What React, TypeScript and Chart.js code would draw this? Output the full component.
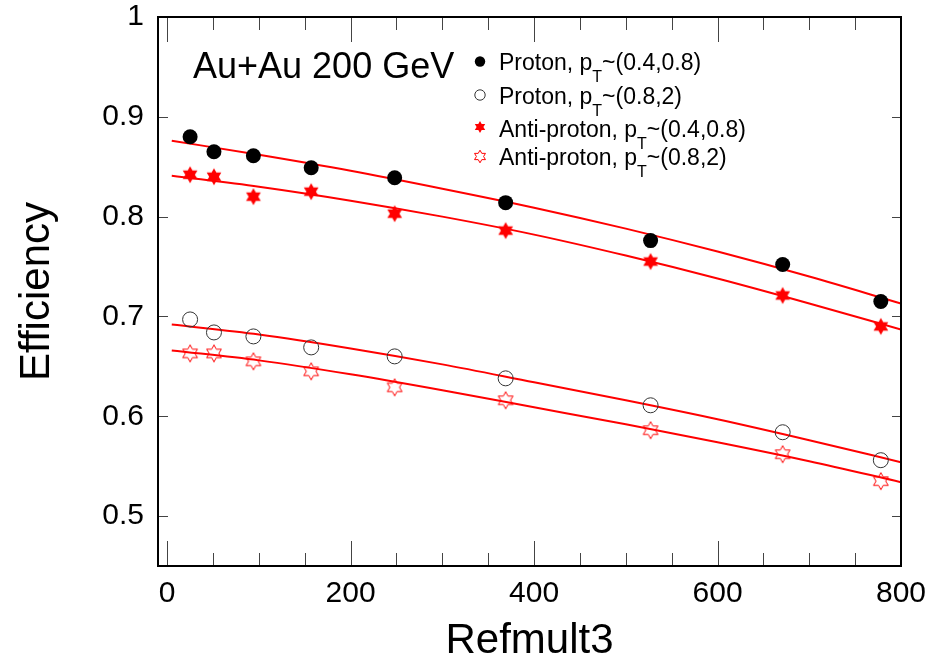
import React, { useEffect, useRef } from 'react';
import { Chart, registerables } from 'chart.js';

Chart.register(...registerables);

// ---- data ----
const refmult = [25, 51, 94, 157, 248, 369, 527, 671, 778];
const protonLow = [0.880, 0.865, 0.861, 0.849, 0.839, 0.814, 0.776, 0.752, 0.715];
const protonHigh = [0.697, 0.684, 0.680, 0.669, 0.660, 0.638, 0.611, 0.584, 0.556];
const antiLow = [0.842, 0.840, 0.820, 0.825, 0.803, 0.786, 0.755, 0.721, 0.690];
const antiHigh = [0.663, 0.663, 0.655, 0.645, 0.629, 0.616, 0.586, 0.562, 0.535];

const fitX = [5, 100, 200, 300, 400, 500, 600, 700, 800];
const protonLowFit = [0.876, 0.862, 0.846, 0.828, 0.809, 0.788, 0.765, 0.740, 0.713];
const antiLowFit = [0.841, 0.830, 0.816, 0.800, 0.782, 0.761, 0.738, 0.713, 0.687];
const protonHighFit = [0.692, 0.682, 0.668, 0.652, 0.634, 0.616, 0.597, 0.576, 0.554];
const antiHighFit = [0.666, 0.656, 0.642, 0.626, 0.609, 0.592, 0.574, 0.555, 0.534];

const xTicks = [0, 200, 400, 600, 800];
const xMinorTicks = [50, 100, 150, 250, 300, 350, 450, 500, 550, 650, 700, 750];
const yTicks = [0.5, 0.6, 0.7, 0.8, 0.9, 1.0];

const legendMain = ['Proton, p', 'Proton, p', 'Anti-proton, p', 'Anti-proton, p'];
const legendSub = ['T', 'T', 'T', 'T'];
const legendRest = ['~(0.4,0.8)', '~(0.8,2)', '~(0.4,0.8)', '~(0.8,2)'];
const systemLabel = 'Au+Au 200 GeV';
const xTitle = 'Refmult3';
const yTitle = 'Efficiency';

const FONT = '"Liberation Sans", Arial, Helvetica, sans-serif';
const RED = '#ff0000';

function starPath(ctx: CanvasRenderingContext2D, cx: number, cy: number, rOut: number, rIn: number) {
  const n = 6;
  ctx.beginPath();
  for (let i = 0; i < 2 * n; i++) {
    const r = i % 2 === 0 ? rOut : rIn;
    const a = -Math.PI / 2 + (i * Math.PI) / n;
    const px = cx + r * Math.cos(a);
    const py = cy + r * Math.sin(a);
    if (i === 0) ctx.moveTo(px, py);
    else ctx.lineTo(px, py);
  }
  ctx.closePath();
}

function makeStar(size: number, rOut: number, rIn: number, filled: boolean) {
  const c = document.createElement('canvas');
  c.width = size;
  c.height = size;
  const ctx = c.getContext('2d')!;
  starPath(ctx, size / 2, size / 2, rOut, rIn);
  if (filled) {
    ctx.fillStyle = RED;
    ctx.fill();
  } else {
    ctx.strokeStyle = RED;
    ctx.lineWidth = 1;
    ctx.stroke();
  }
  return c;
}

const toPts = (xs: number[], ys: number[]) => xs.map((x, i) => ({ x, y: ys[i] }));

export default function App() {
  const ref = useRef<HTMLCanvasElement | null>(null);

  useEffect(() => {
    if (!ref.current) return;
    const filledStar = makeStar(20, 8.5, 4.8, true);
    const openStar = makeStar(20, 8.5, 4.8, false);

    const decor = {
      id: 'decor',
      afterDatasetsDraw(chart: any) {
        const { ctx, chartArea: a, scales } = chart;
        const xs = scales.x;
        const ys = scales.y;
        ctx.save();
        // ticks (inward)
        ctx.strokeStyle = '#444';
        ctx.lineWidth = 1;
        ctx.beginPath();
        const allX = [...xTicks.map((v) => ({ v, major: true })), ...xMinorTicks.map((v) => ({ v, major: false }))];
        allX.forEach(({ v, major }) => {
          const px = Math.round(xs.getPixelForValue(v)) + 0.5;
          const len = major ? 25 : 13;
          ctx.moveTo(px, a.bottom);
          ctx.lineTo(px, a.bottom - len);
          ctx.moveTo(px, a.top);
          ctx.lineTo(px, a.top + len);
        });
        yTicks.forEach((v) => {
          const py = Math.round(ys.getPixelForValue(v)) + 0.5;
          ctx.moveTo(a.left, py);
          ctx.lineTo(a.left + 10, py);
          ctx.moveTo(a.right, py);
          ctx.lineTo(a.right - 9, py);
        });
        ctx.stroke();
        // frame
        ctx.strokeStyle = '#000';
        ctx.lineWidth = 2;
        ctx.strokeRect(a.left, a.top, a.right - a.left, a.bottom - a.top);

        // system label
        ctx.fillStyle = '#000';
        ctx.textBaseline = 'alphabetic';
        ctx.textAlign = 'left';
        ctx.font = `36px ${FONT}`;
        ctx.fillText(systemLabel, 193, 78);

        // legend
        const baselines = [70, 104, 136.5, 165];
        const markerY = [61.5, 95, 127, 156.5];
        const mx = 480;
        const tx = 499;
        for (let i = 0; i < 4; i++) {
          const my = markerY[i];
          if (i === 0) {
            ctx.beginPath();
            ctx.arc(mx, my, 5.2, 0, Math.PI * 2);
            ctx.fillStyle = '#000';
            ctx.fill();
          } else if (i === 1) {
            ctx.beginPath();
            ctx.arc(mx, my, 5.2, 0, Math.PI * 2);
            ctx.strokeStyle = '#333';
            ctx.lineWidth = 1;
            ctx.stroke();
          } else if (i === 2) {
            starPath(ctx, mx, my, 6, 3.4);
            ctx.fillStyle = RED;
            ctx.fill();
          } else {
            starPath(ctx, mx, my, 6.3, 3.6);
            ctx.strokeStyle = RED;
            ctx.lineWidth = 1;
            ctx.stroke();
          }
          const b = baselines[i];
          ctx.fillStyle = '#000';
          ctx.font = `23px ${FONT}`;
          ctx.fillText(legendMain[i], tx, b);
          let x = tx + ctx.measureText(legendMain[i]).width;
          ctx.font = `16px ${FONT}`;
          ctx.fillText(legendSub[i], x, b + 12);
          x += ctx.measureText(legendSub[i]).width;
          ctx.font = `23px ${FONT}`;
          ctx.fillText(legendRest[i], x, b);
        }
        ctx.restore();
      },
    };

    const fitDs = (data: number[]) => ({
      type: 'line' as const,
      data: toPts(fitX, data),
      showLine: true,
      borderColor: RED,
      borderWidth: 2,
      pointRadius: 0,
      cubicInterpolationMode: 'monotone',
      fill: false,
      order: 2,
    });

    const zeroPad = (s: any) => {
      s.paddingTop = 0;
      s.paddingBottom = 0;
      s.paddingLeft = 0;
      s.paddingRight = 0;
    };

    const chart = new Chart(ref.current, {
      type: 'scatter',
      data: {
        datasets: [
          fitDs(protonLowFit),
          fitDs(antiLowFit),
          fitDs(protonHighFit),
          fitDs(antiHighFit),
          {
            label: 'Proton, pT~(0.4,0.8)',
            data: toPts(refmult, protonLow),
            pointStyle: 'circle',
            pointRadius: 7.5,
            backgroundColor: '#000',
            borderColor: '#000',
            borderWidth: 0,
            order: 1,
          },
          {
            label: 'Proton, pT~(0.8,2)',
            data: toPts(refmult, protonHigh),
            pointStyle: 'circle',
            pointRadius: 7.5,
            backgroundColor: 'rgba(0,0,0,0)',
            borderColor: '#333',
            borderWidth: 1,
            order: 1,
          },
          {
            label: 'Anti-proton, pT~(0.4,0.8)',
            data: toPts(refmult, antiLow),
            pointStyle: filledStar as any,
            pointRadius: 8,
            order: 1,
          },
          {
            label: 'Anti-proton, pT~(0.8,2)',
            data: toPts(refmult, antiHigh),
            pointStyle: openStar as any,
            pointRadius: 8,
            order: 1,
          },
        ] as any,
      },
      options: {
        responsive: false,
        animation: false,
        devicePixelRatio: 1,
        layout: { padding: { left: 0, top: 17, right: 37, bottom: 0 } },
        plugins: { legend: { display: false }, tooltip: { enabled: false } },
        scales: {
          x: {
            type: 'linear',
            min: -10,
            max: 800,
            grid: { display: false, drawTicks: false },
            border: { display: false },
            afterBuildTicks: (s: any) => {
              s.ticks = xTicks.map((v) => ({ value: v }));
            },
            afterFit: (s: any) => {
              s.height = 98;
              zeroPad(s);
            },
            ticks: {
              color: '#000',
              padding: 10,
              maxRotation: 0,
              font: { family: FONT, size: 30 },
              callback: (v: any) => String(v),
            },
            title: {
              display: true,
              text: xTitle,
              color: '#000',
              font: { family: FONT, size: 42 },
              padding: { top: 0, bottom: -3 },
            },
          },
          y: {
            type: 'linear',
            min: 0.45,
            max: 1.0,
            grid: { display: false, drawTicks: false },
            border: { display: false },
            afterBuildTicks: (s: any) => {
              s.ticks = yTicks.map((v) => ({ value: v }));
            },
            afterFit: (s: any) => {
              s.width = 158;
              zeroPad(s);
            },
            ticks: {
              color: '#000',
              padding: 14,
              font: { family: FONT, size: 30, lineHeight: 1 },
              callback: (v: any) => (Math.abs(v - 1) < 1e-9 ? '1' : Number(v).toFixed(1)),
            },
            title: {
              display: true,
              text: yTitle,
              color: '#000',
              font: { family: FONT, size: 42 },
              padding: { top: 12, bottom: 0 },
            },
          },
        },
      } as any,
      plugins: [decor],
    });
    return () => chart.destroy();
  }, []);

  return (
    <div style={{ position: 'fixed', left: 0, top: 0, width: 938, height: 664, background: '#fff' }}>
      <canvas ref={ref} width={938} height={664} style={{ display: 'block' }} />
    </div>
  );
}
